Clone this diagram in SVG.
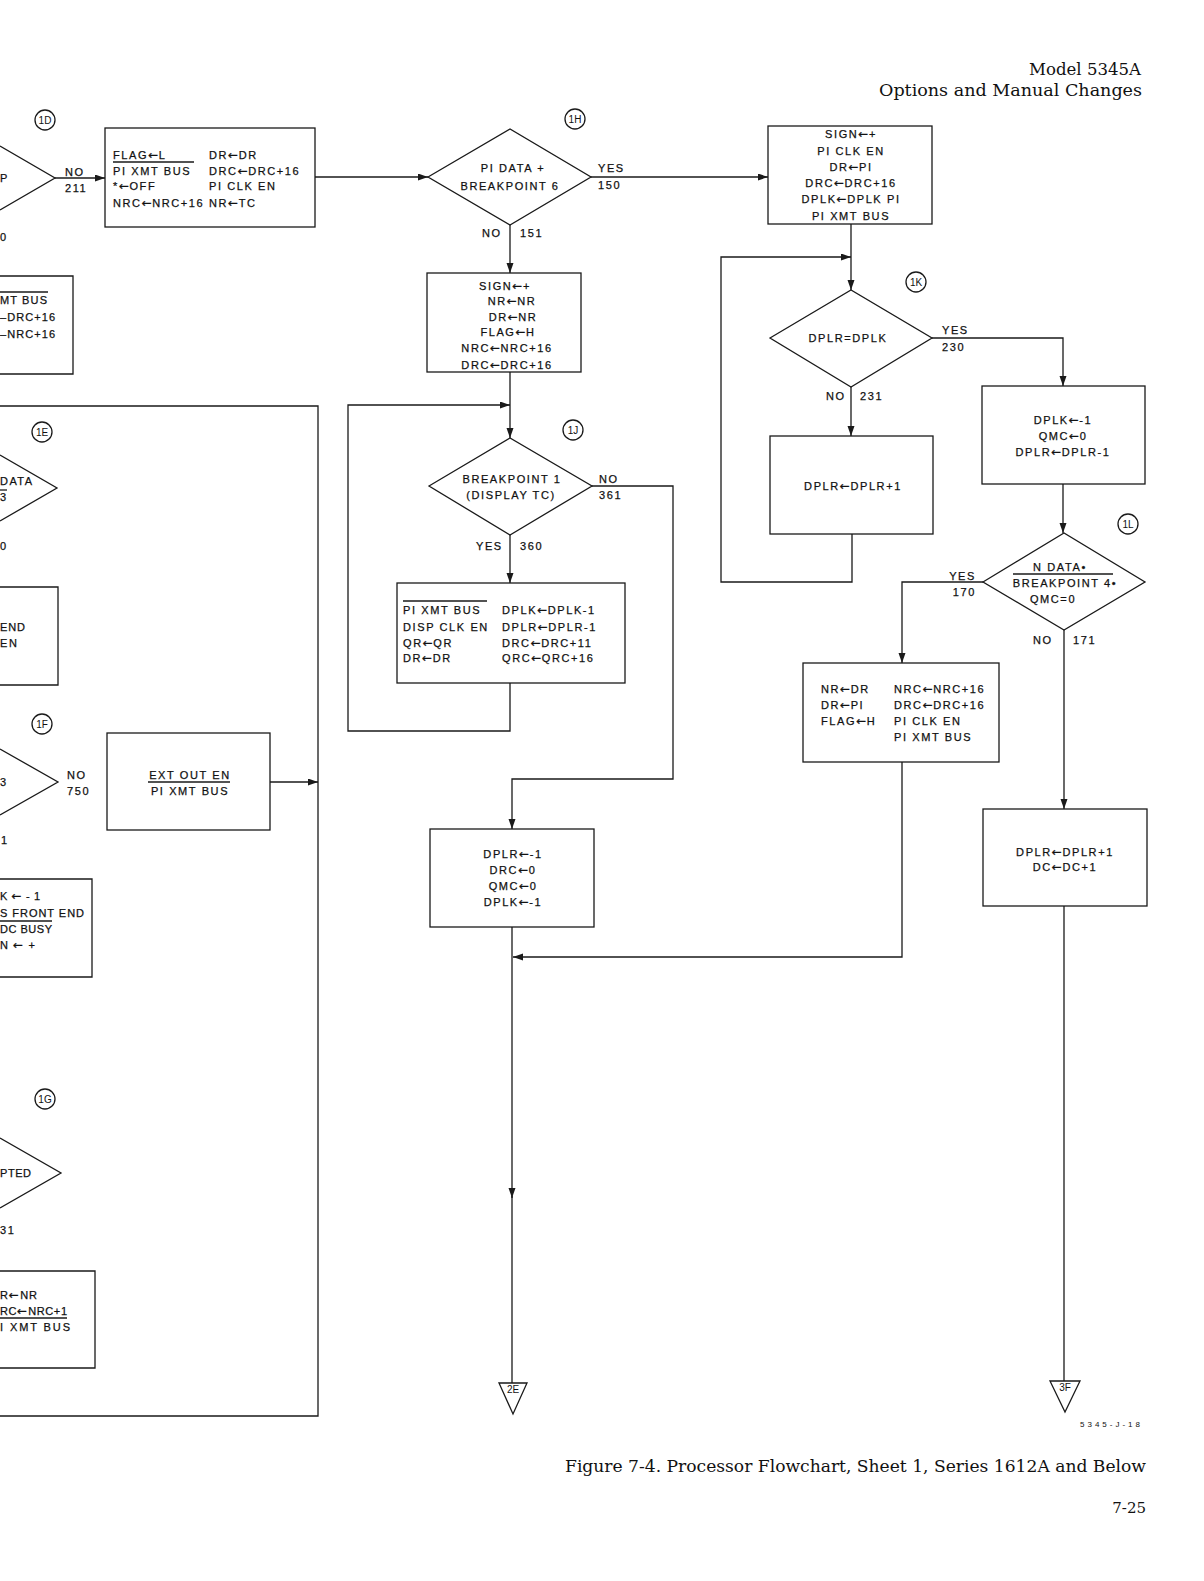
<svg xmlns="http://www.w3.org/2000/svg" width="1204" height="1581" viewBox="0 0 1204 1581">
<defs>
<marker id="ah" markerUnits="userSpaceOnUse" markerWidth="10" markerHeight="8" refX="10" refY="3.5" orient="auto">
<path d="M0,0 L10,3.5 L0,7 z" fill="#1a1a1a"/>
</marker>
</defs>
<style>
.ln{fill:none;stroke:#1a1a1a;stroke-width:1.3}
.ar{fill:none;stroke:#1a1a1a;stroke-width:1.3;marker-end:url(#ah)}
.bx{fill:none;stroke:#1a1a1a;stroke-width:1.3}
.t{font-family:"Liberation Sans",Arial,sans-serif;font-size:11px;letter-spacing:1.6px;fill:#111;stroke:#111;stroke-width:0.25}
.p{letter-spacing:0px}
.a{font-family:"DejaVu Sans",sans-serif;font-size:12px;letter-spacing:0.5px}
.m{text-anchor:middle}
.e{text-anchor:end}
.c{font-family:"Liberation Sans",Arial,sans-serif;font-size:10px;fill:#111;text-anchor:middle}
.hd{font-family:"DejaVu Serif","Liberation Serif",serif;fill:#111}
</style>
<rect width="1204" height="1581" fill="#fff"/>

<g id="header">
<text class="hd" x="1141" y="75" font-size="16" text-anchor="end" textLength="112" lengthAdjust="spacingAndGlyphs">Model 5345A</text>
<text class="hd" x="1142" y="96" font-size="16" text-anchor="end" textLength="263" lengthAdjust="spacingAndGlyphs">Options and Manual Changes</text>
</g>

<g id="connectors">
<path class="ar" d="M55,178 H105"/>
<path class="ar" d="M315,177 H428"/>
<path class="ar" d="M591,177 H768"/>
<path class="ar" d="M510,225 V273"/>
<path class="ar" d="M510,372 V438"/>
<path class="ar" d="M510,683 V731 H348 V405 H510"/>
<path class="ar" d="M510,535 V583"/>
<path class="ar" d="M592,486 H673 V779 H512 V829"/>
<path class="ar" d="M512,927 V1198"/>
<path class="ln" d="M512,1196 V1383"/>
<path class="ar" d="M902,762 V957 H513"/>
<path class="ar" d="M851,224 V290"/>
<path class="ar" d="M852,534 V582 H721 V257 H851"/>
<path class="ar" d="M851,387 V436"/>
<path class="ar" d="M932,338 H1063 V386"/>
<path class="ar" d="M1063,484 V533"/>
<path class="ar" d="M983,582 H902 V663"/>
<path class="ar" d="M1064,630 V809"/>
<path class="ln" d="M1064,906 V1381"/>
<path class="ar" d="M270,782 H318"/>
<path class="ln" d="M0,406 H318 V1416 H0"/>
</g>

<g id="node-1D-left">
<circle class="bx" cx="45" cy="120" r="10"/>
<text class="c" x="45" y="123.5">1D</text>
<path class="ln" d="M0,146 L55,178 L0,210"/>
<text class="t" x="0" y="182">P</text>
<text class="t" x="0" y="241">0</text>
<text class="t" x="65" y="176">NO</text>
<text class="t" x="65" y="192">211</text>
</g>

<g id="node-box-top-left">
<path class="ln" d="M0,276 H73 V374 H0"/>
<line class="ln" x1="0" y1="292" x2="48" y2="292"/>
<text class="t p" x="0" y="304" textLength="47">MT BUS</text>
<text class="t p" x="0" y="321" textLength="55">–DRC+16</text>
<text class="t p" x="0" y="338" textLength="55">–NRC+16</text>
</g>

<g id="node-box-1D">
<rect class="bx" x="105" y="128" width="210" height="99"/>
<line class="ln" x1="113" y1="162" x2="194" y2="162"/>
<text class="t" x="113" y="159">FLAG<tspan class="a">←</tspan>L</text>
<text class="t" x="113" y="175">PI XMT BUS</text>
<text class="t" x="113" y="190">*<tspan class="a">←</tspan>OFF</text>
<text class="t" x="113" y="207">NRC<tspan class="a">←</tspan>NRC+16</text>
<text class="t" x="209" y="159">DR<tspan class="a">←</tspan>DR</text>
<text class="t" x="209" y="175">DRC<tspan class="a">←</tspan>DRC+16</text>
<text class="t" x="209" y="190">PI CLK EN</text>
<text class="t" x="209" y="207">NR<tspan class="a">←</tspan>TC</text>
</g>

<g id="node-1H">
<circle class="bx" cx="575" cy="119" r="10"/>
<text class="c" x="575" y="122.5">1H</text>
<polygon class="bx" points="428,177 510,129 591,177 510,225"/>
<text class="t m" x="513" y="172">PI DATA +</text>
<text class="t m" x="510" y="190">BREAKPOINT 6</text>
<text class="t" x="598" y="172">YES</text>
<text class="t" x="598" y="189">150</text>
<text class="t" x="482" y="237">NO</text>
<text class="t" x="520" y="237">151</text>
</g>

<g id="node-box-sign-mid">
<rect class="bx" x="427" y="273" width="154" height="99"/>
<text class="t m" x="505" y="290">SIGN<tspan class="a">←</tspan>+</text>
<text class="t m" x="512" y="305">NR<tspan class="a">←</tspan>NR</text>
<text class="t m" x="513" y="321">DR<tspan class="a">←</tspan>NR</text>
<text class="t m" x="508" y="336">FLAG<tspan class="a">←</tspan>H</text>
<text class="t m" x="507" y="352">NRC<tspan class="a">←</tspan>NRC+16</text>
<text class="t m" x="507" y="369">DRC<tspan class="a">←</tspan>DRC+16</text>
</g>

<g id="node-1J">
<circle class="bx" cx="573" cy="430" r="10"/>
<text class="c" x="573" y="433.5">1J</text>
<polygon class="bx" points="429,486 510,438 592,486 510,535"/>
<text class="t m" x="512" y="483">BREAKPOINT 1</text>
<text class="t m" x="511" y="499">(DISPLAY TC)</text>
<text class="t" x="599" y="483">NO</text>
<text class="t" x="599" y="499">361</text>
<text class="t" x="476" y="550">YES</text>
<text class="t" x="520" y="550">360</text>
</g>

<g id="node-box-disp">
<rect class="bx" x="397" y="583" width="228" height="100"/>
<line class="ln" x1="403" y1="601" x2="487" y2="601"/>
<text class="t" x="403" y="614">PI XMT BUS</text>
<text class="t" x="403" y="631">DISP CLK EN</text>
<text class="t" x="403" y="647">QR<tspan class="a">←</tspan>QR</text>
<text class="t" x="403" y="662">DR<tspan class="a">←</tspan>DR</text>
<text class="t" x="502" y="614">DPLK<tspan class="a">←</tspan>DPLK-1</text>
<text class="t" x="502" y="631">DPLR<tspan class="a">←</tspan>DPLR-1</text>
<text class="t" x="502" y="647">DRC<tspan class="a">←</tspan>DRC+11</text>
<text class="t" x="502" y="662">QRC<tspan class="a">←</tspan>QRC+16</text>
</g>

<g id="node-box-dplr-reset">
<rect class="bx" x="430" y="829" width="164" height="98"/>
<text class="t m" x="513" y="858">DPLR<tspan class="a">←</tspan>-1</text>
<text class="t m" x="513" y="874">DRC<tspan class="a">←</tspan>0</text>
<text class="t m" x="513" y="890">QMC<tspan class="a">←</tspan>0</text>
<text class="t m" x="513" y="906">DPLK<tspan class="a">←</tspan>-1</text>
</g>

<g id="node-box-sign-right">
<rect class="bx" x="768" y="126" width="164" height="98"/>
<text class="t m" x="851" y="138">SIGN<tspan class="a">←</tspan>+</text>
<text class="t m" x="851" y="155">PI CLK EN</text>
<text class="t m" x="851" y="171">DR<tspan class="a">←</tspan>PI</text>
<text class="t m" x="851" y="187">DRC<tspan class="a">←</tspan>DRC+16</text>
<text class="t m" x="851" y="203">DPLK<tspan class="a">←</tspan>DPLK PI</text>
<text class="t m" x="851" y="220">PI XMT BUS</text>
</g>

<g id="node-1K">
<circle class="bx" cx="916" cy="282" r="10"/>
<text class="c" x="916" y="285.5">1K</text>
<polygon class="bx" points="770,338 851,290 932,338 851,387"/>
<text class="t m" x="848" y="342">DPLR=DPLK</text>
<text class="t" x="942" y="334">YES</text>
<text class="t" x="942" y="351">230</text>
<text class="t" x="826" y="400">NO</text>
<text class="t" x="860" y="400">231</text>
</g>

<g id="node-box-dplr-inc">
<rect class="bx" x="770" y="436" width="163" height="98"/>
<text class="t m" x="853" y="490">DPLR<tspan class="a">←</tspan>DPLR+1</text>
</g>

<g id="node-box-dplk">
<rect class="bx" x="982" y="386" width="163" height="98"/>
<text class="t m" x="1063" y="424">DPLK<tspan class="a">←</tspan>-1</text>
<text class="t m" x="1063" y="440">QMC<tspan class="a">←</tspan>0</text>
<text class="t m" x="1063" y="456">DPLR<tspan class="a">←</tspan>DPLR-1</text>
</g>

<g id="node-1L">
<circle class="bx" cx="1128" cy="524" r="10"/>
<text class="c" x="1128" y="527.5">1L</text>
<polygon class="bx" points="983,582 1064,533 1145,582 1064,630"/>
<text class="t m" x="1060" y="571">N DATA•</text>
<line class="ln" x1="1013" y1="574" x2="1113" y2="574"/>
<text class="t m" x="1065" y="587">BREAKPOINT 4•</text>
<text class="t m" x="1053" y="603">QMC=0</text>
<text class="t e" x="976" y="580">YES</text>
<text class="t e" x="976" y="596">170</text>
<text class="t" x="1033" y="644">NO</text>
<text class="t" x="1073" y="644">171</text>
</g>

<g id="node-box-nr">
<rect class="bx" x="803" y="663" width="196" height="99"/>
<text class="t" x="821" y="693">NR<tspan class="a">←</tspan>DR</text>
<text class="t" x="821" y="709">DR<tspan class="a">←</tspan>PI</text>
<text class="t" x="821" y="725">FLAG<tspan class="a">←</tspan>H</text>
<text class="t" x="894" y="693">NRC<tspan class="a">←</tspan>NRC+16</text>
<text class="t" x="894" y="709">DRC<tspan class="a">←</tspan>DRC+16</text>
<text class="t" x="894" y="725">PI CLK EN</text>
<text class="t" x="894" y="741">PI XMT BUS</text>
</g>

<g id="node-box-dc">
<rect class="bx" x="983" y="809" width="164" height="97"/>
<text class="t m" x="1065" y="856">DPLR<tspan class="a">←</tspan>DPLR+1</text>
<text class="t m" x="1065" y="871">DC<tspan class="a">←</tspan>DC+1</text>
</g>

<g id="node-1E-left">
<circle class="bx" cx="42" cy="432" r="10"/>
<text class="c" x="42" y="435.5">1E</text>
<path class="ln" d="M0,455 L57,488 L0,521"/>
<text class="t p" x="0" y="485" textLength="32">DATA</text>
<line class="ln" x1="0" y1="490" x2="7" y2="490"/>
<text class="t" x="0" y="501">3</text>
<text class="t" x="0" y="550">0</text>
<path class="ln" d="M0,587 H58 V685 H0"/>
<text class="t p" x="0" y="631" textLength="25">END</text>
<text class="t p" x="0" y="647" textLength="17">EN</text>
</g>

<g id="node-1F-left">
<circle class="bx" cx="42" cy="724" r="10"/>
<text class="c" x="42" y="727.5">1F</text>
<path class="ln" d="M0,749 L58,782 L0,815"/>
<text class="t" x="0" y="786">3</text>
<text class="t" x="67" y="779">NO</text>
<text class="t" x="67" y="795">750</text>
<text class="t" x="1" y="844">1</text>
</g>

<g id="node-box-1F">
<rect class="bx" x="107" y="733" width="163" height="97"/>
<line class="ln" x1="148" y1="782" x2="230" y2="782"/>
<text class="t m" x="190" y="779">EXT OUT EN</text>
<text class="t m" x="190" y="795">PI XMT BUS</text>
</g>

<g id="node-box-front-end">
<path class="ln" d="M0,879 H92 V977 H0"/>
<line class="ln" x1="0" y1="921" x2="52" y2="921"/>
<text class="t p" x="0" y="900" textLength="40">K<tspan class="a">←</tspan>-1</text>
<text class="t p" x="0" y="917" textLength="84">S FRONT END</text>
<text class="t p" x="0" y="933" textLength="52">DC BUSY</text>
<text class="t p" x="0" y="949" textLength="35">N<tspan class="a">←</tspan>+</text>
</g>

<g id="node-1G-left">
<circle class="bx" cx="45" cy="1099" r="10"/>
<text class="c" x="45" y="1102.5">1G</text>
<path class="ln" d="M0,1138 L61,1173 L0,1208"/>
<text class="t p" x="0" y="1177" textLength="31">PTED</text>
<text class="t" x="0" y="1234">31</text>
<path class="ln" d="M0,1271 H95 V1368 H0"/>
<line class="ln" x1="0" y1="1318" x2="67" y2="1318"/>
<text class="t p" x="0" y="1299" textLength="37">R<tspan class="a">←</tspan>NR</text>
<text class="t p" x="0" y="1315" textLength="67">RC<tspan class="a">←</tspan>NRC+1</text>
<text class="t p" x="0" y="1331" textLength="70">I XMT BUS</text>
</g>

<g id="node-2E">
<polygon class="bx" points="499,1383 527,1383 513,1414"/>
<text class="c" x="513" y="1393" font-size="8">2E</text>
</g>

<g id="node-3F">
<polygon class="bx" points="1050,1381 1080,1381 1065,1412"/>
<text class="c" x="1065" y="1391" font-size="8">3F</text>
</g>

<g id="footer">
<text x="1140" y="1427" font-family="Liberation Sans,Arial,sans-serif" font-size="8" text-anchor="end" textLength="60" fill="#111">5345-J-18</text>
<text class="hd" x="565" y="1472" font-size="16" textLength="581" lengthAdjust="spacingAndGlyphs">Figure 7-4. Processor Flowchart, Sheet 1, Series 1612A and Below</text>
<text class="hd" x="1146" y="1513" font-size="15" text-anchor="end">7-25</text>
</g>
</svg>
